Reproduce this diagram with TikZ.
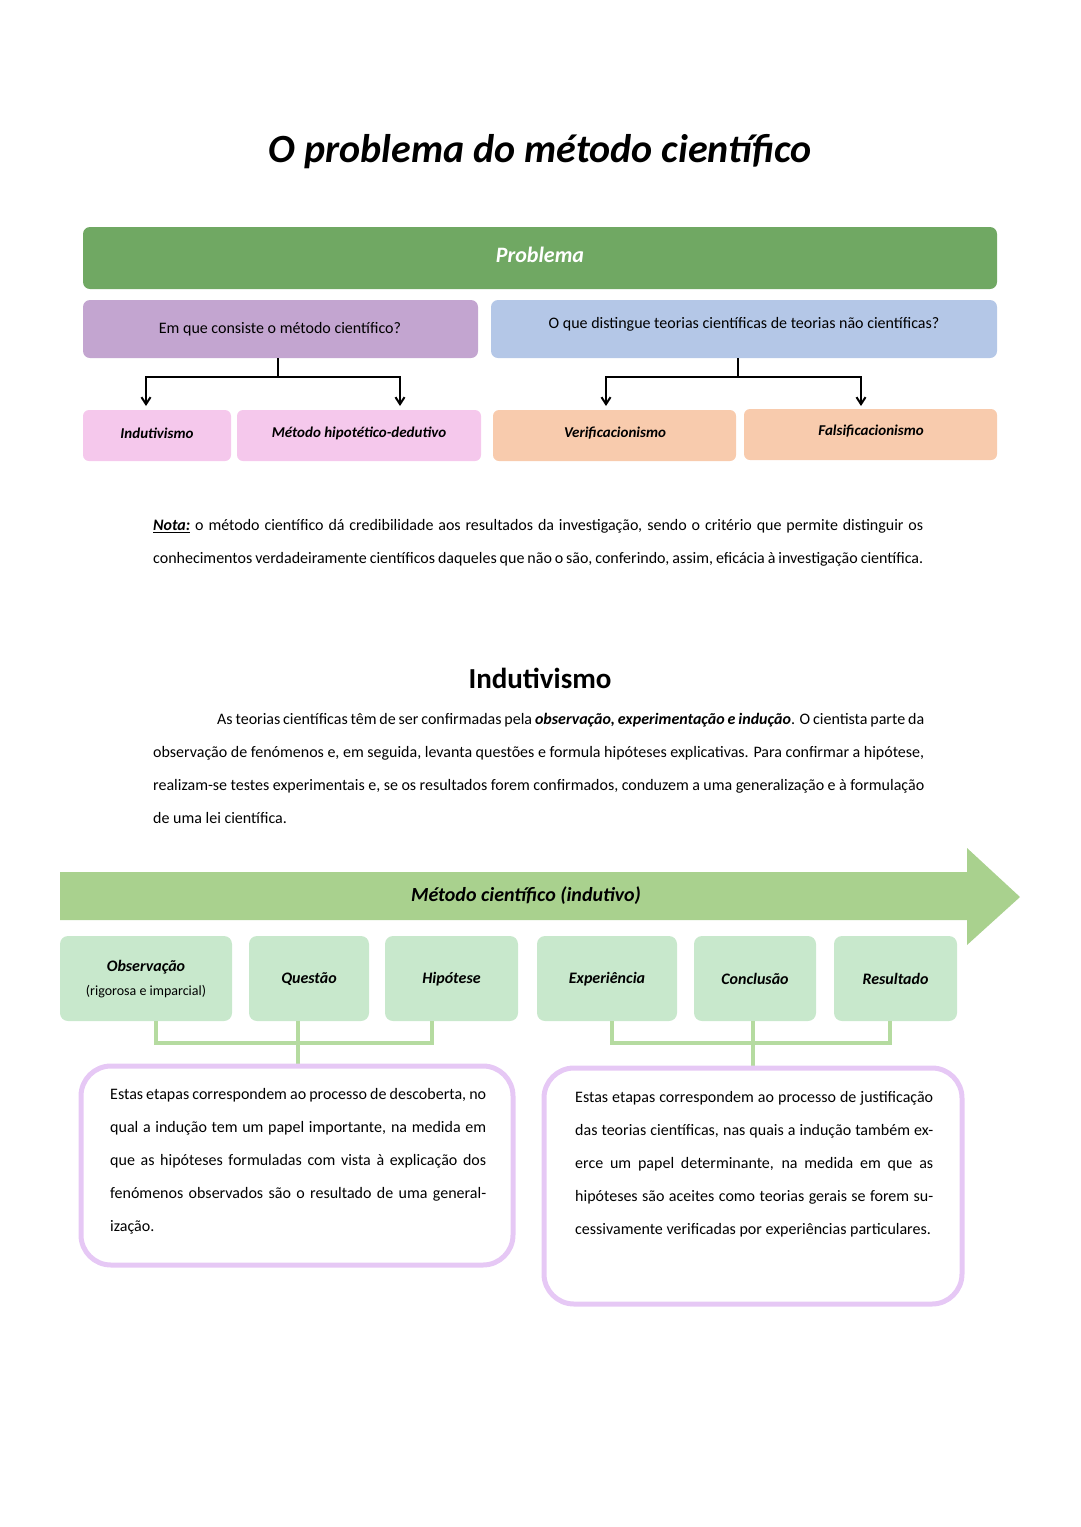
\documentclass[tikz,border=0pt]{standalone}
\usepackage{fontspec}
\setmainfont{Carlito}
\usetikzlibrary{arrows.meta}
\definecolor{gDark}{HTML}{70A863}
\definecolor{purp}{HTML}{C3A5D0}
\definecolor{blu}{HTML}{B4C7E7}
\definecolor{pinkb}{HTML}{F5C8EC}
\definecolor{orang}{HTML}{F8CBAD}
\definecolor{gArrow}{HTML}{A9D18E}
\definecolor{gBox}{HTML}{C8E8CC}
\definecolor{gLine}{HTML}{B5DBA0}
\definecolor{lilac}{HTML}{E6C8F5}
\begin{document}
\begin{tikzpicture}[x=1pt,y=-1pt,
  box/.style={rounded corners=6pt,inner sep=0pt},
  lbl/.style={font=\fontsize{15}{18}\selectfont\bfseries\itshape},
  para/.style={align=justify,font=\fontsize{16}{33}\selectfont,inner sep=0pt,anchor=north west},
  conn/.style={line width=2pt,-{Straight Barb[length=7pt,width=9pt]}},
  gconn/.style={gLine,line width=4pt}]
\useasboundingbox (0,0) rectangle (1080,1527);
\node (title) at (540,152) {\fontsize{40}{44}\selectfont\bfseries\itshape O problema do método científico};
\fill[gDark,rounded corners=7pt] (83,227) rectangle (997,289);
\node[white,font=\fontsize{22}{26}\selectfont\bfseries\itshape] (prob) at (540,255) {Problema};
\fill[purp,rounded corners=7pt] (83,300) rectangle (478,358);
\node[font=\fontsize{16}{19}\selectfont] (q1) at (280,329) {Em que consiste o método científico?};
\fill[blu,rounded corners=7pt] (491,300) rectangle (997,358);
\node[font=\fontsize{16}{19}\selectfont] (q2) at (744,324) {O que distingue teorias científicas de teorias não científicas?};
\coordinate (a1) at (278,358); \coordinate (a2) at (278,377);
\coordinate (a3) at (146,377); \coordinate (a4) at (400,377);
\coordinate (a5) at (146,406); \coordinate (a6) at (400,406);
\draw[line width=2pt] (a1)--(a2);
\draw[conn] (a2)--(a3)--(a5);
\draw[conn] (a2)--(a4)--(a6);
\coordinate (b1) at (738,358); \coordinate (b2) at (738,377);
\coordinate (b3) at (606,377); \coordinate (b4) at (861,377);
\coordinate (b5) at (606,406); \coordinate (b6) at (861,406);
\draw[line width=2pt] (b1)--(b2);
\draw[conn] (b2)--(b3)--(b5);
\draw[conn] (b2)--(b4)--(b6);
\fill[pinkb,rounded corners=6pt] (83,410) rectangle (231,461);
\node[lbl] (ind) at (157,433) {Indutivismo};
\fill[pinkb,rounded corners=6pt] (237,410) rectangle (481,461);
\node[lbl] (mhd) at (359,433) {Método hipotético-dedutivo};
\fill[orang,rounded corners=6pt] (493,410) rectangle (736,461);
\node[lbl] (ver) at (615,433) {Verificacionismo};
\fill[orang,rounded corners=6pt] (744,409) rectangle (997,460);
\node[lbl] (fal) at (871,431) {Falsificacionismo};
\node[para,text width=770pt] (nota) at (153,519) {\underline{\textbf{\textit{Nota:}}} o método científico dá credibilidade aos resultados da investigação, sendo o critério que permite distinguir os conhecimentos verdadeiramente científicos daqueles que não o são, conferindo, assim, eficácia à investigação científica.};
\node (h2) at (540,678) {\fontsize{29}{32}\selectfont\bfseries Indutivismo};
\node[para,text width=771pt] (p2) at (153,713) {\hspace*{64pt}As teorias científicas têm de ser confirmadas pela \textbf{\textit{observação, experimentação e indução}}. O cientista parte da observação de fenómenos e, em seguida, levanta questões e formula hipóteses explicativas. Para confirmar a hipótese, realizam-se testes experimentais e, se os resultados forem confirmados, conduzem a uma generalização e à formulação de uma lei científica.};
\fill[gArrow] (60,872) -- (967,872) -- (967,848) -- (1020,897) -- (967,945) -- (967,920) -- (60,920) -- cycle;
\node[font=\fontsize{20}{24}\selectfont\bfseries\itshape] (mc) at (526,896) {Método científico (indutivo)};
\foreach \n/\xa/\xb/\t in {obs/60/232/{},que/249/369/Questão,hip/385/518/Hipótese,exp/537/677/Experiência,con/694/816/Conclusão,res/834/957/Resultado}{
  \fill[gBox,rounded corners=8pt] (\xa,936) rectangle (\xb,1021);
  \node[lbl,font=\fontsize{16}{19}\selectfont\bfseries\itshape] (\n) at ({(\xa+\xb)/2},979) {\t};
}
\node[align=center,font=\fontsize{14}{24}\selectfont] (obst) at (146,979) {\fontsize{16}{19}\selectfont\bfseries\itshape Observação\\(rigorosa e imparcial)};
\coordinate (c1) at (156,1021); \coordinate (c2) at (156,1043);
\coordinate (c3) at (432,1043); \coordinate (c4) at (432,1021);
\coordinate (c5) at (298,1021); \coordinate (c6) at (298,1064);
\draw[gconn] (c1)--(c2)--(c3)--(c4);
\draw[gconn] (c5)--(c6);
\coordinate (d1) at (612,1021); \coordinate (d2) at (612,1043);
\coordinate (d3) at (890,1043); \coordinate (d4) at (890,1021);
\coordinate (d5) at (753,1021); \coordinate (d6) at (753,1066);
\draw[gconn] (d1)--(d2)--(d3)--(d4);
\draw[gconn] (d5)--(d6);
\draw[lilac,line width=5pt,rounded corners=30pt] (81,1066) rectangle (513,1265);
\draw[lilac,line width=5pt,rounded corners=30pt] (544,1068) rectangle (962,1304);
\node[para,text width=376pt] (t1) at (110,1088) {Estas etapas correspondem ao processo de descoberta, no qual a indução tem um papel importante, na medida em que as hipóteses formuladas com vista à explicação dos fenómenos observados são o resultado de uma generalização.};
\node[para,text width=358pt] (t2) at (575,1091) {Estas etapas correspondem ao processo de justificação das teorias científicas, nas quais a indução também exerce um papel determinante, na medida em que as hipóteses são aceites como teorias gerais se forem sucessivamente verificadas por experiências particulares.};
\end{tikzpicture}
\end{document}
